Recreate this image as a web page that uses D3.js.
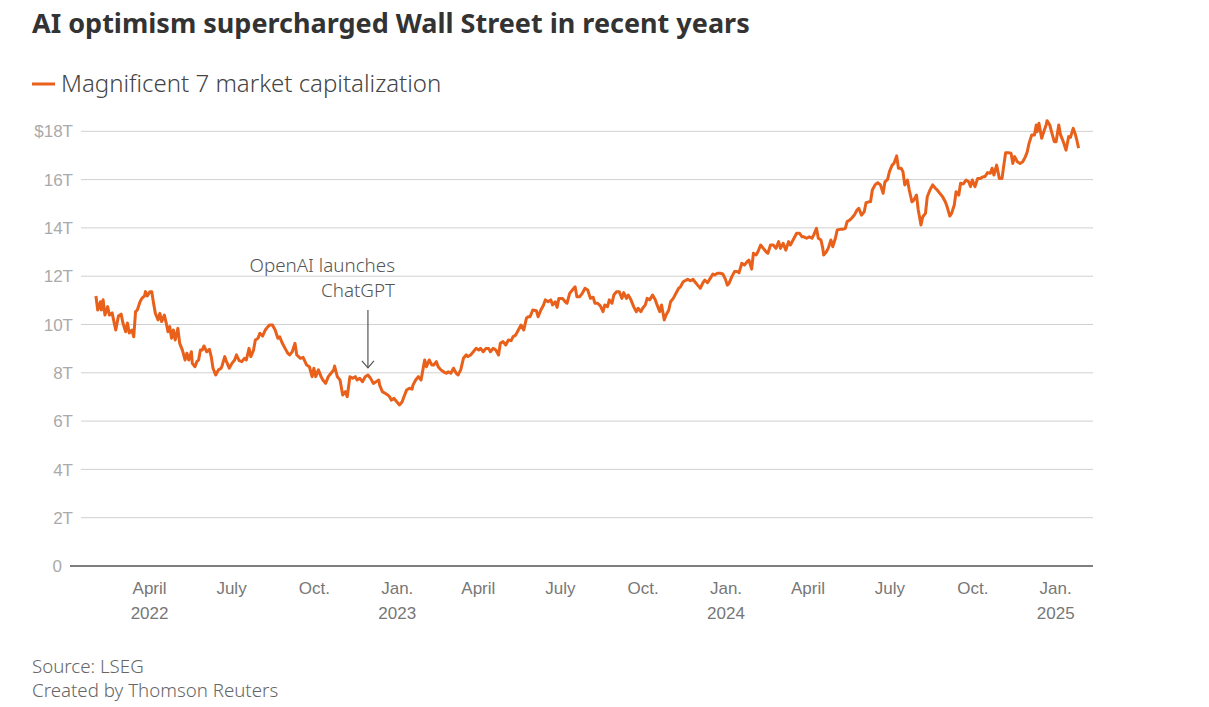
<!DOCTYPE html>
<html lang="en">
<head>
<meta charset="utf-8">
<title>AI optimism supercharged Wall Street in recent years</title>
<script src="https://cdn.jsdelivr.net/npm/d3@7"></script>
<style>
  body { margin: 0; background: #fff; }
  svg { font-family: Lato, "Noto Sans", sans-serif; }
  .title { font-family: "Noto Sans", sans-serif; font-size: 27px; font-weight: 700; fill: #333; }
  .legend { font-family: "Noto Sans", sans-serif; font-size: 24px; font-weight: 300; fill: #444; }
  .axis--y text { font-size: 17px; fill: #aaa; }
  .axis--y line { stroke: #d0d0d0; }
  .axis--x text { font-size: 17px; fill: #777; }
  .note { font-family: "Noto Sans", sans-serif; font-size: 18.8px; font-weight: 300; fill: #555; }
  .source { font-family: "Noto Sans", sans-serif; font-size: 18.7px; font-weight: 300; fill: #666; }
</style>
</head>
<body>
<svg id="chart" width="1209" height="707"></svg>
<script>
// Magnificent 7 combined market cap, trillions of dollars
var dates = [
  "2022-02-01","2022-02-03","2022-02-06","2022-02-07","2022-02-09","2022-02-11","2022-02-14","2022-02-16","2022-02-19","2022-02-21",
  "2022-02-23","2022-02-26","2022-03-01","2022-03-03","2022-03-06","2022-03-08","2022-03-10","2022-03-13","2022-03-15","2022-03-17",
  "2022-03-19","2022-03-22","2022-03-24","2022-03-27","2022-03-28","2022-03-30","2022-04-02","2022-04-04","2022-04-06","2022-04-08",
  "2022-04-11","2022-04-13","2022-04-15","2022-04-18","2022-04-20","2022-04-22","2022-04-24","2022-04-26","2022-04-28","2022-04-30",
  "2022-05-03","2022-05-05","2022-05-08","2022-05-11","2022-05-13","2022-05-15","2022-05-18","2022-05-19","2022-05-22","2022-05-24",
  "2022-05-26","2022-05-28","2022-05-30","2022-06-01","2022-06-04","2022-06-07","2022-06-09","2022-06-11","2022-06-14","2022-06-17",
  "2022-06-20","2022-06-21","2022-06-24","2022-06-26","2022-06-29","2022-07-02","2022-07-05","2022-07-07","2022-07-10","2022-07-13",
  "2022-07-16","2022-07-18","2022-07-21","2022-07-23","2022-07-26","2022-07-28","2022-07-31","2022-08-02","2022-08-05","2022-08-08",
  "2022-08-11","2022-08-13","2022-08-16","2022-08-19","2022-08-22","2022-08-24","2022-08-27","2022-08-30","2022-09-02","2022-09-04",
  "2022-09-07","2022-09-10","2022-09-12","2022-09-14","2022-09-16","2022-09-19","2022-09-23","2022-09-26","2022-09-29","2022-10-01",
  "2022-10-03","2022-10-06","2022-10-09","2022-10-11","2022-10-14","2022-10-17","2022-10-20","2022-10-23","2022-10-24","2022-10-27",
  "2022-10-30","2022-11-02","2022-11-05","2022-11-07","2022-11-10","2022-11-13","2022-11-16","2022-11-18","2022-11-21","2022-11-24",
  "2022-11-27","2022-11-30","2022-12-03","2022-12-06","2022-12-09","2022-12-12","2022-12-13","2022-12-16","2022-12-19","2022-12-22",
  "2022-12-24","2022-12-26","2022-12-29",
  "2023-01-01","2023-01-04","2023-01-07","2023-01-09","2023-01-12","2023-01-15","2023-01-18","2023-01-19","2023-01-22","2023-01-25",
  "2023-01-28","2023-01-30","2023-02-01","2023-02-03","2023-02-06","2023-02-09","2023-02-11","2023-02-14","2023-02-16","2023-02-19",
  "2023-02-22","2023-02-25","2023-02-27","2023-03-02","2023-03-05","2023-03-08","2023-03-10","2023-03-13","2023-03-16","2023-03-19",
  "2023-03-21","2023-03-24","2023-03-27","2023-03-30","2023-04-02","2023-04-04","2023-04-07","2023-04-10","2023-04-13","2023-04-15",
  "2023-04-18","2023-04-21","2023-04-24","2023-04-26","2023-04-29","2023-05-02","2023-05-05","2023-05-08","2023-05-10","2023-05-13",
  "2023-05-16","2023-05-19","2023-05-22","2023-05-25","2023-05-27","2023-05-29","2023-06-01","2023-06-05","2023-06-07","2023-06-10",
  "2023-06-13","2023-06-15","2023-06-18","2023-06-21","2023-06-23","2023-06-26","2023-06-28","2023-06-30","2023-07-04","2023-07-07",
  "2023-07-09","2023-07-12","2023-07-15","2023-07-18","2023-07-20","2023-07-23","2023-07-26","2023-07-29","2023-08-01","2023-08-04",
  "2023-08-07","2023-08-09","2023-08-12","2023-08-15","2023-08-18","2023-08-20","2023-08-23","2023-08-25","2023-08-28","2023-08-30",
  "2023-09-02","2023-09-05","2023-09-08","2023-09-10","2023-09-13","2023-09-15","2023-09-18","2023-09-21","2023-09-24","2023-09-26",
  "2023-09-29","2023-10-01","2023-10-04","2023-10-06","2023-10-09","2023-10-12","2023-10-15","2023-10-17","2023-10-20","2023-10-22",
  "2023-10-25","2023-10-27","2023-10-30","2023-11-01","2023-11-04","2023-11-07","2023-11-10","2023-11-12","2023-11-15","2023-11-17",
  "2023-11-20","2023-11-23","2023-11-26","2023-11-28","2023-12-01","2023-12-04","2023-12-07","2023-12-09","2023-12-12","2023-12-15",
  "2023-12-18","2023-12-20","2023-12-23","2023-12-26","2023-12-29",
  "2024-01-01","2024-01-03","2024-01-05","2024-01-08","2024-01-11","2024-01-14","2024-01-16","2024-01-19","2024-01-22","2024-01-25",
  "2024-01-27","2024-01-30","2024-02-01","2024-02-04","2024-02-06","2024-02-09","2024-02-12","2024-02-15","2024-02-17","2024-02-20",
  "2024-02-23","2024-02-26","2024-02-29","2024-03-02","2024-03-05","2024-03-08","2024-03-11","2024-03-13","2024-03-16","2024-03-20",
  "2024-03-23","2024-03-26","2024-03-28","2024-03-31","2024-04-03","2024-04-06","2024-04-08","2024-04-11","2024-04-13","2024-04-16",
  "2024-04-18","2024-04-19","2024-04-22","2024-04-24","2024-04-27","2024-04-29","2024-05-02","2024-05-04","2024-05-07","2024-05-10",
  "2024-05-13","2024-05-15","2024-05-18","2024-05-20","2024-05-23","2024-05-26","2024-05-28","2024-05-31","2024-06-03","2024-06-05",
  "2024-06-08","2024-06-10","2024-06-12","2024-06-15","2024-06-18","2024-06-21","2024-06-24","2024-06-26","2024-06-29","2024-07-01",
  "2024-07-04","2024-07-06","2024-07-09","2024-07-11","2024-07-14","2024-07-16","2024-07-18","2024-07-21","2024-07-23","2024-07-26",
  "2024-07-28","2024-07-31","2024-08-02","2024-08-05","2024-08-07","2024-08-10","2024-08-12","2024-08-15","2024-08-18","2024-08-21",
  "2024-08-23","2024-08-26","2024-08-29","2024-09-01","2024-09-03","2024-09-06","2024-09-08","2024-09-11","2024-09-13","2024-09-16",
  "2024-09-18","2024-09-21","2024-09-24","2024-09-27","2024-09-29","2024-10-01","2024-10-04","2024-10-07","2024-10-10","2024-10-13",
  "2024-10-15","2024-10-18","2024-10-21","2024-10-23","2024-10-25","2024-10-28","2024-10-31","2024-11-03","2024-11-05","2024-11-07",
  "2024-11-10","2024-11-13","2024-11-15","2024-11-17","2024-11-20","2024-11-23","2024-11-26","2024-11-29","2024-12-01","2024-12-03",
  "2024-12-06","2024-12-09","2024-12-11","2024-12-12","2024-12-14","2024-12-17","2024-12-20","2024-12-22","2024-12-23","2024-12-26",
  "2024-12-28","2024-12-31",
  "2025-01-02","2025-01-05","2025-01-07","2025-01-10","2025-01-13","2025-01-16","2025-01-18","2025-01-21","2025-01-23","2025-01-25",
  "2025-01-27"
];
var capT = [
  11.16,10.58,10.92,10.58,11.0,10.37,10.72,10.37,10.46,10.10,
  9.75,10.33,10.41,10.04,9.68,10.04,9.63,9.75,9.47,10.51,
  10.58,10.92,11.06,11.16,11.34,11.16,11.34,11.34,10.86,10.44,
  10.17,10.44,10.10,10.37,10.05,9.68,9.89,9.41,9.75,9.34,
  9.82,9.2,8.92,8.51,8.79,8.51,8.85,8.37,8.23,8.44,
  8.51,8.92,8.92,9.09,8.85,8.95,8.65,8.17,7.89,8.10,
  8.17,8.26,8.65,8.44,8.17,8.37,8.51,8.72,8.48,8.44,
  8.58,8.51,8.99,8.65,8.92,9.34,9.41,9.62,9.50,9.75,
  9.89,9.96,9.96,9.75,9.41,9.47,9.2,8.99,8.79,8.72,
  8.85,9.2,8.72,8.65,8.58,8.62,8.3,8.23,7.82,8.17,
  7.82,8.10,7.82,7.68,7.54,7.82,7.96,8.10,8.26,7.82,
  7.68,7.06,7.20,6.99,7.82,7.75,7.82,7.68,7.75,7.61,
  7.82,7.89,7.75,7.54,7.61,7.68,7.47,7.20,7.13,7.06,
  6.99,6.85,6.92,
  6.78,6.65,6.78,6.99,7.27,7.34,7.30,7.47,7.68,7.82,
  7.68,8.10,8.51,8.23,8.51,8.30,8.30,8.44,8.23,8.10,
  8.02,7.96,8.02,7.96,8.17,7.96,7.89,8.10,8.58,8.72,
  8.65,8.72,8.85,8.99,8.92,8.99,8.85,8.99,8.99,8.85,
  8.99,8.92,8.72,9.2,9.27,9.13,9.34,9.31,9.47,9.54,
  9.75,9.96,9.75,10.24,10.30,10.30,10.58,10.55,10.30,10.58,
  10.79,11.0,10.92,11.0,10.79,10.92,10.69,11.06,11.06,10.92,
  10.86,11.27,11.41,11.54,11.13,11.13,11.27,11.48,11.41,11.06,
  11.11,10.86,10.86,10.75,10.51,10.79,10.72,11.0,10.86,11.2,
  11.34,11.34,11.06,11.30,11.06,11.2,11.0,10.72,10.51,10.65,
  10.51,10.65,10.79,11.06,11.0,11.2,11.0,10.79,10.51,10.79,
  10.17,10.37,10.58,10.92,11.06,11.27,11.48,11.54,11.75,11.79,
  11.85,11.79,11.85,11.75,11.61,11.48,11.71,11.82,11.71,11.89,
  12.07,12.03,12.10,12.10,12.07,
  11.85,11.61,11.69,11.96,12.17,12.17,12.12,12.51,12.44,12.58,
  12.65,12.27,12.93,12.86,12.99,13.27,13.13,12.99,12.93,13.27,
  13.27,13.13,13.41,13.13,13.34,13.06,13.41,13.27,13.48,13.76,
  13.76,13.61,13.61,13.55,13.61,13.55,13.69,13.96,13.55,13.48,
  13.13,12.86,12.99,13.13,13.48,13.20,13.55,13.89,13.92,13.92,
  13.96,14.24,14.31,14.38,14.51,14.72,14.79,14.51,14.65,15.02,
  15.06,15.06,15.55,15.76,15.85,15.76,15.41,15.89,15.99,16.31,
  16.58,16.65,16.96,16.45,16.45,16.31,15.76,15.96,15.55,15.06,
  15.13,15.34,14.72,14.10,14.44,14.58,15.27,15.55,15.76,15.62,
  15.55,15.41,15.27,15.06,14.86,14.47,14.58,14.93,15.48,15.34,
  15.83,15.80,15.96,15.89,15.69,15.96,15.69,16.03,16.03,16.10,
  16.10,16.27,16.24,16.45,16.17,16.58,16.03,16.03,16.58,17.09,
  17.09,17.07,16.65,16.93,16.72,16.65,16.72,16.93,17.13,17.48,
  17.83,17.83,18.24,17.96,18.31,17.69,18.03,18.24,18.42,18.24,
  17.96,17.55,
  17.55,18.24,17.83,17.55,17.2,17.76,17.73,18.10,17.90,17.62,
  17.28
];
var yTicks = [0, 2, 4, 6, 8, 10, 12, 14, 16, 18];
var xTickDates = ["2022-04-01","2022-07-01","2022-10-01","2023-01-01","2023-04-01","2023-07-01",
                  "2023-10-01","2024-01-01","2024-04-01","2024-07-01","2024-10-01","2025-01-01"];
var xTickMonths = ["April","July","Oct.","Jan.","April","July","Oct.","Jan.","April","July","Oct.","Jan."];
var xTickYears = ["2022","","","2023","","","","2024","","","","2025"];

var parse = d3.timeParse("%Y-%m-%d");
var data = dates.map(function(d, i) { return {date: parse(d), value: capT[i]}; });

var svg = d3.select("#chart"),
    lineColor = "#e8601a";

var x = d3.scaleTime()
    .domain([parse("2022-01-01"), parse("2025-02-12")])
    .range([68, 1093]);
var y = d3.scaleLinear().domain([0, 18]).range([565.5, 130.8]);

// title + legend
svg.append("text").attr("class", "title").attr("x", 32).attr("y", 33)
    .text("AI optimism supercharged Wall Street in recent years");
svg.append("line").attr("x1", 32).attr("x2", 55).attr("y1", 84).attr("y2", 84)
    .attr("stroke", lineColor).attr("stroke-width", 3);
svg.append("text").attr("class", "legend").attr("x", 61).attr("y", 92)
    .text("Magnificent 7 market capitalization");

// y axis with gridlines
var gy = svg.append("g")
    .attr("class", "axis axis--y")
    .attr("transform", "translate(81,0)")
    .call(d3.axisLeft(y)
        .tickValues(yTicks)
        .tickSize(-(1093 - 81))
        .tickPadding(8)
        .tickFormat(function(d) { return d === 0 ? "0" : (d === 18 ? "$18T" : d + "T"); }));
gy.select(".domain").remove();
gy.selectAll(".tick text").attr("dy", "0.36em").style("font-family", "inherit");
var zeroTick = gy.selectAll(".tick").filter(function(d) { return d === 0; });
zeroTick.select("line").attr("x1", -11).style("stroke", "#555").style("stroke-width", 1.5);
zeroTick.select("text").attr("x", -19);

// x axis labels (no ticks)
var gx = svg.append("g")
    .attr("class", "axis axis--x")
    .attr("transform", "translate(0,566)")
    .call(d3.axisBottom(x)
        .tickValues(xTickDates.map(parse))
        .tickSize(0)
        .tickFormat(""));
gx.select(".domain").remove();
gx.selectAll(".tick text").each(function(d, i) {
    var t = d3.select(this).attr("y", 0).attr("dy", null).style("font-family", "inherit");
    t.append("tspan").attr("x", 0).attr("y", 28).text(xTickMonths[i]);
    if (xTickYears[i]) t.append("tspan").attr("x", 0).attr("y", 53).text(xTickYears[i]);
});

// the series
var line = d3.line()
    .x(function(d) { return x(d.date); })
    .y(function(d) { return y(d.value); });
svg.append("path")
    .datum(data)
    .attr("fill", "none")
    .attr("stroke", lineColor)
    .attr("stroke-width", 3)
    .attr("stroke-linejoin", "round")
    .attr("d", line);

// ChatGPT annotation
var noteX = x(parse("2022-11-30")),
    arrowTop = y(10.58), arrowTip = y(8.18);
svg.append("line").attr("x1", noteX).attr("x2", noteX).attr("y1", arrowTop).attr("y2", arrowTip)
    .attr("stroke", "#555").attr("stroke-width", 1.2);
svg.append("path")
    .attr("d", "M" + (noteX - 6) + "," + (arrowTip - 7) + "L" + noteX + "," + arrowTip + "L" + (noteX + 6) + "," + (arrowTip - 7))
    .attr("fill", "none").attr("stroke", "#555").attr("stroke-width", 1.2);
svg.append("text").attr("class", "note").attr("x", 395).attr("y", 272)
    .attr("text-anchor", "end").text("OpenAI launches");
svg.append("text").attr("class", "note").attr("x", 395).attr("y", 297)
    .attr("text-anchor", "end").text("ChatGPT");

// footer
svg.append("text").attr("class", "source").attr("x", 32).attr("y", 673).text("Source: LSEG");
svg.append("text").attr("class", "source").attr("x", 32).attr("y", 697).text("Created by Thomson Reuters");
</script>
</body>
</html>
